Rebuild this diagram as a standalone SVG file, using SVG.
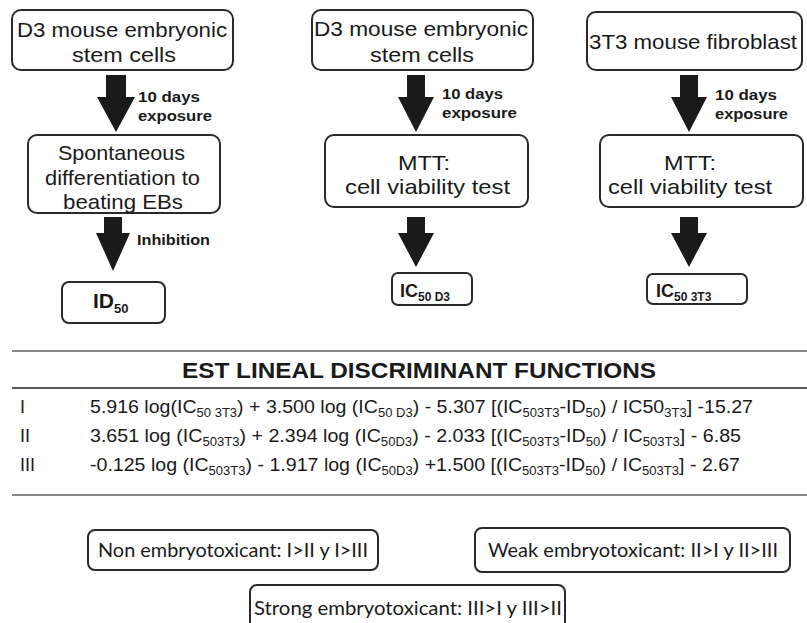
<svg xmlns="http://www.w3.org/2000/svg" width="807" height="623" viewBox="0 0 807 623">
<style>
.box{fill:#fff;stroke:#2a2a2a;stroke-width:2}
.t{font-family:"Liberation Sans",Arial,sans-serif;fill:#1a1a1a}
.n{font-size:21px}
.lbl{font-size:14px;font-weight:bold}
.res{font-weight:bold}
.f{font-size:18px}
.title{font-size:22px;font-weight:bold}
.c{font-family:Lato,"Open Sans",sans-serif;font-size:19px;fill:#1a1a1a}
.arr{fill:#1a1a1a}
.rule{stroke:#888;stroke-width:2}
</style>
<rect width="807" height="623" fill="#fff"/>

<!-- column 1 -->
<g id="d3-stem-1">
<rect class="box" x="12" y="10" width="221" height="60" rx="9"/>
<text class="t n" x="17" y="37" textLength="210" lengthAdjust="spacingAndGlyphs">D3 mouse embryonic</text>
<text class="t n" x="72" y="62" textLength="104" lengthAdjust="spacingAndGlyphs">stem cells</text>
</g>
<g id="spontaneous">
<rect class="box" x="28" y="135" width="192" height="78" rx="9"/>
<text class="t n" x="58" y="160" textLength="127" lengthAdjust="spacingAndGlyphs">Spontaneous</text>
<text class="t n" x="45" y="185" textLength="155" lengthAdjust="spacingAndGlyphs">differentiation to</text>
<text class="t n" x="63" y="209" textLength="120" lengthAdjust="spacingAndGlyphs">beating EBs</text>
</g>
<g id="id50">
<rect class="box" x="62" y="282" width="103" height="41" rx="7"/>
<text class="t res" x="93" y="308"><tspan font-size="21">ID</tspan><tspan font-size="13" dy="5">50</tspan></text>
</g>

<!-- column 2 -->
<g id="d3-stem-2">
<rect class="box" x="312" y="10" width="221" height="60" rx="9"/>
<text class="t n" x="314" y="36" textLength="214" lengthAdjust="spacingAndGlyphs">D3 mouse embryonic</text>
<text class="t n" x="370" y="62" textLength="104" lengthAdjust="spacingAndGlyphs">stem cells</text>
</g>
<g id="mtt-d3">
<rect class="box" x="325" y="135" width="203" height="72" rx="9"/>
<text class="t n" x="398" y="170" textLength="52" lengthAdjust="spacingAndGlyphs">MTT:</text>
<text class="t n" x="345" y="194" textLength="165" lengthAdjust="spacingAndGlyphs">cell viability test</text>
</g>
<g id="ic50-d3">
<rect class="box" x="392" y="273" width="80" height="32" rx="6"/>
<text class="t res" x="400" y="297"><tspan font-size="18">IC</tspan><tspan font-size="12" dy="4">50 D3</tspan></text>
</g>

<!-- column 3 -->
<g id="fibroblast">
<rect class="box" x="587" y="12" width="215" height="58" rx="9"/>
<text class="t n" x="589" y="49" textLength="208" lengthAdjust="spacingAndGlyphs">3T3 mouse fibroblast</text>
</g>
<g id="mtt-3t3">
<rect class="box" x="600" y="135" width="203" height="72" rx="9"/>
<text class="t n" x="664" y="170" textLength="52" lengthAdjust="spacingAndGlyphs">MTT:</text>
<text class="t n" x="608" y="194" textLength="164" lengthAdjust="spacingAndGlyphs">cell viability test</text>
</g>
<g id="ic50-3t3">
<rect class="box" x="647" y="274" width="100" height="30" rx="6"/>
<text class="t res" x="656" y="297"><tspan font-size="18">IC</tspan><tspan font-size="12" dy="4">50 3T3</tspan></text>
</g>

<!-- connectors -->
<g id="connectors">
<polygon class="arr" points="106,75 126,75 126,97 135,97 116,132 97,97 106,97"/>
<polygon class="arr" points="104,217 122,217 122,233 130,233 113,271 96,233 104,233"/>
<polygon class="arr" points="407,75 425,75 425,97 434,97 416,132 398,97 407,97"/>
<polygon class="arr" points="407,217 425,217 425,233 434,233 416,267 398,233 407,233"/>
<polygon class="arr" points="680,75 698,75 698,97 707,97 689,132 671,97 680,97"/>
<polygon class="arr" points="680,217 698,217 698,233 707,233 689,267 671,233 680,233"/>
<text class="t lbl" x="138" y="102" textLength="62" lengthAdjust="spacingAndGlyphs">10 days</text>
<text class="t lbl" x="138" y="121" textLength="74" lengthAdjust="spacingAndGlyphs">exposure</text>
<text class="t lbl" x="137" y="245" textLength="73" lengthAdjust="spacingAndGlyphs">Inhibition</text>
<text class="t lbl" x="442" y="99" textLength="61" lengthAdjust="spacingAndGlyphs">10 days</text>
<text class="t lbl" x="442" y="118" textLength="75" lengthAdjust="spacingAndGlyphs">exposure</text>
<text class="t lbl" x="715" y="100" textLength="62" lengthAdjust="spacingAndGlyphs">10 days</text>
<text class="t lbl" x="715" y="119" textLength="73" lengthAdjust="spacingAndGlyphs">exposure</text>
</g>

<!-- table -->
<g id="table">
<line class="rule" x1="12" y1="351" x2="807" y2="351"/>
<text class="t title" x="182" y="378" textLength="474" lengthAdjust="spacingAndGlyphs">EST LINEAL DISCRIMINANT FUNCTIONS</text>
<line x1="12" y1="388" x2="807" y2="388" stroke="#222" stroke-width="1.5"/>
<text class="t f" x="20" y="413">I</text>
<text class="t f" x="90" y="413" textLength="663" lengthAdjust="spacingAndGlyphs">5.916 log(IC<tspan font-size="12" dy="4">50 3T3</tspan><tspan dy="-4">) + 3.500 log (IC</tspan><tspan font-size="12" dy="4">50 D3</tspan><tspan dy="-4">) - 5.307 [(IC</tspan><tspan font-size="12" dy="4">503T3</tspan><tspan dy="-4">-ID</tspan><tspan font-size="12" dy="4">50</tspan><tspan dy="-4">) / IC50</tspan><tspan font-size="12" dy="4">3T3</tspan><tspan dy="-4">] -15.27</tspan></text>
<text class="t f" x="20" y="442">II</text>
<text class="t f" x="90" y="442" textLength="651" lengthAdjust="spacingAndGlyphs">3.651 log (IC<tspan font-size="12" dy="4">503T3</tspan><tspan dy="-4">) + 2.394 log (IC</tspan><tspan font-size="12" dy="4">50D3</tspan><tspan dy="-4">) - 2.033 [(IC</tspan><tspan font-size="12" dy="4">503T3</tspan><tspan dy="-4">-ID</tspan><tspan font-size="12" dy="4">50</tspan><tspan dy="-4">) / IC</tspan><tspan font-size="12" dy="4">503T3</tspan><tspan dy="-4">] - 6.85</tspan></text>
<text class="t f" x="20" y="471">III</text>
<text class="t f" x="90" y="471" textLength="650" lengthAdjust="spacingAndGlyphs">-0.125 log (IC<tspan font-size="12" dy="4">503T3</tspan><tspan dy="-4">) - 1.917 log (IC</tspan><tspan font-size="12" dy="4">50D3</tspan><tspan dy="-4">) +1.500 [(IC</tspan><tspan font-size="12" dy="4">503T3</tspan><tspan dy="-4">-ID</tspan><tspan font-size="12" dy="4">50</tspan><tspan dy="-4">) / IC</tspan><tspan font-size="12" dy="4">503T3</tspan><tspan dy="-4">] - 2.67</tspan></text>
<line class="rule" x1="12" y1="495" x2="807" y2="495"/>
</g>

<!-- classification -->
<g id="non-embryotoxicant">
<rect class="box" x="88" y="530" width="290" height="40" rx="7"/>
<text class="c" x="98" y="557" textLength="270" lengthAdjust="spacingAndGlyphs">Non embryotoxicant: I&gt;II y I&gt;III</text>
</g>
<g id="weak-embryotoxicant">
<rect class="box" x="475" y="528" width="315" height="44" rx="7"/>
<text class="c" x="488" y="557" textLength="290" lengthAdjust="spacingAndGlyphs">Weak embryotoxicant: II&gt;I y II&gt;III</text>
</g>
<g id="strong-embryotoxicant">
<rect class="box" x="250" y="585" width="315" height="50" rx="7"/>
<text class="c" x="254" y="615" textLength="308" lengthAdjust="spacingAndGlyphs">Strong embryotoxicant: III&gt;I y III&gt;II</text>
</g>
</svg>
